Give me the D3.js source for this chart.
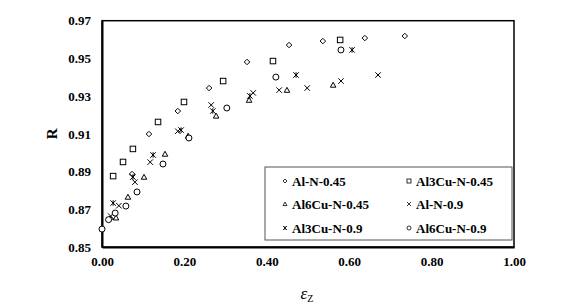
<!DOCTYPE html>
<html>
<head>
<meta charset="utf-8">
<script src="https://cdn.jsdelivr.net/npm/d3@7"></script>
<style>
  body { margin: 0; background: #fff; }
  svg { display: block; font-family: "Liberation Serif", "Times New Roman", serif; font-weight: bold; }
</style>
</head>
<body>
<svg id="chart"></svg>
<script>
// series names (legend order)
const seriesNames = ['Al-N-0.45', 'Al3Cu-N-0.45', 'Al6Cu-N-0.45', 'Al-N-0.9', 'Al3Cu-N-0.9', 'Al6Cu-N-0.9'];

// strain values and R values
const alN045X = [0.02, 0.073, 0.114, 0.184, 0.260, 0.352, 0.454, 0.536, 0.638, 0.735];
const alN045Y = [0.865, 0.8887, 0.9099, 0.9221, 0.9343, 0.9481, 0.9571, 0.9592, 0.9608, 0.9619];

const al3CuN045X = [0.027, 0.051, 0.075, 0.136, 0.199, 0.294, 0.415, 0.578];
const al3CuN045Y = [0.8876, 0.8951, 0.9020, 0.9163, 0.9269, 0.9380, 0.9486, 0.9598];

const al6CuN045X = [0.034, 0.063, 0.102, 0.153, 0.209, 0.277, 0.357, 0.449, 0.561];
const al6CuN045Y = [0.8655, 0.8765, 0.8871, 0.8993, 0.9089, 0.9195, 0.9279, 0.9332, 0.9359];

const alN09X = [0.021, 0.041, 0.080, 0.117, 0.184, 0.265, 0.367, 0.430, 0.498, 0.580, 0.670];
const alN09Y = [0.8664, 0.8719, 0.8844, 0.8950, 0.9114, 0.9253, 0.9317, 0.9332, 0.9343, 0.9380, 0.9412];

const al3CuN09X = [0.027, 0.075, 0.124, 0.192, 0.269, 0.359, 0.471, 0.607];
const al3CuN09Y = [0.8733, 0.8871, 0.8988, 0.9120, 0.9221, 0.9301, 0.9412, 0.9545];

const al6CuN09X = [0, 0.016, 0.032, 0.058, 0.085, 0.148, 0.211, 0.303, 0.422, 0.580];
const al6CuN09Y = [0.8595, 0.8645, 0.8680, 0.8717, 0.8792, 0.8940, 0.9078, 0.9237, 0.9401, 0.9545];

const xTicks = [0, 0.2, 0.4, 0.6, 0.8, 1.0];
const yTicks = [0.85, 0.87, 0.89, 0.91, 0.93, 0.95, 0.97];

const seriesX = [alN045X, al3CuN045X, al6CuN045X, alN09X, al3CuN09X, al6CuN09X];
const seriesY = [alN045Y, al3CuN045Y, al6CuN045Y, alN09Y, al3CuN09Y, al6CuN09Y];
const shapes = ['diamond', 'square', 'triangle', 'cross', 'star', 'circle'];

const W = 584, H = 308;
const svg = d3.select('#chart').attr('width', W).attr('height', H);

const x = d3.scaleLinear().domain([0, 1]).range([102, 514]);
const y = d3.scaleLinear().domain([0.85, 0.97]).range([247, 20.7]);

// marker drawing
function marker(g, shape, s) {
  const h = s / 2;
  if (shape === 'diamond') {
    g.append('path').attr('d', `M0,${-h}L${h},0L0,${h}L${-h},0Z`);
  } else if (shape === 'square') {
    g.append('rect').attr('x', -h).attr('y', -h).attr('width', s).attr('height', s);
  } else if (shape === 'triangle') {
    g.append('path').attr('d', `M0,${-h}L${h},${h * 0.8}L${-h},${h * 0.8}Z`);
  } else if (shape === 'cross') {
    g.append('path').attr('d', `M${-h},${-h}L${h},${h}M${h},${-h}L${-h},${h}`);
  } else if (shape === 'star') {
    g.append('path').attr('d', `M${-h},${-h}L${h},${h}M${h},${-h}L${-h},${h}M0,${-h}L0,${h}`);
  } else {
    g.append('circle').attr('r', h);
  }
}

// plot frame
svg.append('rect')
  .attr('x', x(0)).attr('y', y(0.97))
  .attr('width', x(1) - x(0)).attr('height', y(0.85) - y(0.97))
  .attr('fill', 'none').attr('stroke', '#000').attr('stroke-width', 1.5);

// axes
const xAxis = svg.append('g')
  .attr('transform', `translate(0,${y(0.85)})`)
  .call(d3.axisBottom(x).tickValues(xTicks).tickFormat(d3.format('.2f')).tickSize(0).tickPadding(10));
const yAxis = svg.append('g')
  .attr('transform', `translate(${x(0)},0)`)
  .call(d3.axisLeft(y).tickValues(yTicks).tickFormat(d3.format('.2f')).tickSize(0).tickPadding(11));
[xAxis, yAxis].forEach(a => {
  a.select('.domain').attr('stroke', '#000').attr('stroke-width', 2);
  a.selectAll('text').attr('font-family', '"Liberation Serif", serif')
    .attr('font-weight', 'bold').attr('font-size', 13).attr('fill', '#000');
});

// axis titles
svg.append('text')
  .attr('transform', `translate(57,${(y(0.85) + y(0.97)) / 2}) rotate(-90)`)
  .attr('text-anchor', 'middle').attr('font-size', 15).text('R');

const xt = svg.append('text').attr('x', 307).attr('y', 299)
  .attr('text-anchor', 'middle').attr('font-size', 17);
xt.append('tspan').attr('font-style', 'italic').attr('font-weight', 'normal').text('ε');
xt.append('tspan').attr('font-size', 10).attr('dy', 3).attr('font-weight', 'normal').text('Z');

// points
seriesNames.forEach((name, i) => {
  const pts = seriesX[i].map((v, j) => [v, seriesY[i][j]]);
  svg.append('g').selectAll('g').data(pts).join('g')
    .attr('transform', d => `translate(${x(d[0])},${y(d[1])})`)
    .attr('fill', '#fff').attr('stroke', '#000').attr('stroke-width', 1)
    .each(function () { marker(d3.select(this), shapes[i], shapes[i] === 'circle' ? 6 : 5.5); });
});

// legend
const legend = svg.append('g');
legend.append('rect')
  .attr('x', 265).attr('y', 167).attr('width', 247).attr('height', 73)
  .attr('fill', '#fff').attr('stroke', '#555').attr('stroke-width', 1);
const colX = [285, 409];
const rowY = [181, 204, 228];
seriesNames.forEach((name, i) => {
  const cx = colX[i % 2], cy = rowY[Math.floor(i / 2)];
  const g = legend.append('g').attr('transform', `translate(${cx},${cy})`)
    .attr('fill', '#fff').attr('stroke', '#000').attr('stroke-width', 0.8);
  marker(g, shapes[i], 4);
  legend.append('text').attr('x', cx + 7).attr('y', cy).attr('dy', '0.35em')
    .attr('font-size', 13).attr('fill', '#000').text(name);
});
</script>
</body>
</html>
